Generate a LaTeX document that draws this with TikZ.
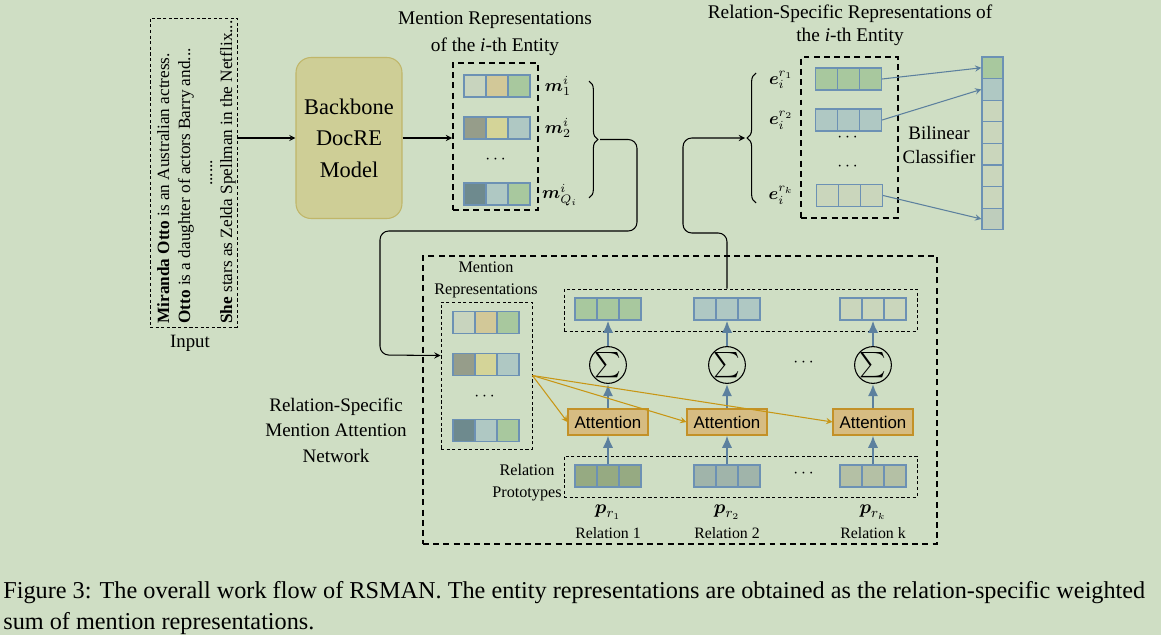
\documentclass[tikz,border=0pt]{standalone}
\usepackage{amsmath}
\usepackage{fontspec}
\setmainfont{Liberation Serif}
\newfontfamily\sansatt{Liberation Sans}
\usetikzlibrary{decorations.pathreplacing, calc, arrows.meta}
\definecolor{bgc}{RGB}{207, 222, 196}
\definecolor{cellline}{RGB}{108, 145, 180}
\definecolor{arrowblue}{RGB}{92, 128, 158}
\definecolor{goldline}{RGB}{200, 150, 20}
\definecolor{attfill}{RGB}{214, 188, 130}
\definecolor{attline}{RGB}{195, 145, 40}
\definecolor{backfill}{RGB}{206, 206, 150}
\definecolor{backline}{RGB}{192, 182, 105}
\definecolor{cpale}{RGB}{200, 212, 190}
\definecolor{ctan}{RGB}{210, 200, 152}
\definecolor{cgreen}{RGB}{168, 200, 158}
\definecolor{cgrey}{RGB}{150, 157, 138}
\definecolor{cyel}{RGB}{212, 212, 152}
\definecolor{cblue}{RGB}{175, 200, 195}
\definecolor{cslate}{RGB}{110, 138, 142}
\definecolor{clight}{RGB}{202, 214, 188}
\definecolor{cmist}{RGB}{190, 205, 188}
\definecolor{pgreen}{RGB}{150, 170, 130}
\definecolor{pblue}{RGB}{160, 180, 170}
\definecolor{plight}{RGB}{180, 192, 165}

\newcommand{\cellrow}[6]{%
  \node[cell, fill=#4] (#1-1) at ({#2-22}, #3) {};
  \node[cell, fill=#5] (#1-2) at (#2, #3) {};
  \node[cell, fill=#6] (#1-3) at ({#2+22}, #3) {};
}

\begin{document}
\begin{tikzpicture}[x=0.02cm, y=-0.02cm,
  cell/.style={draw=cellline, line width=0.7pt, inner sep=0, minimum width=0.44cm, minimum height=0.44cm},
  thickdash/.style={draw, line width=1.1pt, dash pattern=on 3.4pt off 2.4pt, inner sep=0},
  thindash/.style={draw, line width=0.5pt, dash pattern=on 1.8pt off 1.4pt, inner sep=0},
  blk/.style={->, >=stealth, line width=0.6pt},
  bluearrow/.style={-{Latex[length=7pt, width=6pt]}, line width=1.4pt, draw=arrowblue},
  goldarrow/.style={->, >=stealth, line width=0.6pt, draw=goldline},
  outarrow/.style={->, >=stealth, line width=0.6pt, draw=arrowblue},
  attbox/.style={draw=attline, fill=attfill, line width=0.6pt, minimum width=1.6cm, minimum height=0.52cm, inner sep=0, font=\sansatt\fontsize{9.6}{11}\selectfont},
  sumnode/.style={draw, circle, line width=0.6pt, minimum size=0.64cm, inner sep=0, font=\fontsize{15}{15}\selectfont},
  inputtxt/.style={rotate=90, anchor=base west, inner sep=0, font=\fontsize{9.8}{12}\selectfont},
  title/.style={align=center, inner sep=0, font=\fontsize{11}{15.3}\selectfont},
  small/.style={align=center, inner sep=0, font=\fontsize{9.2}{12.5}\selectfont},
  mathlbl/.style={inner sep=0, font=\fontsize{10}{12}\selectfont},
  brace/.style={decorate, decoration={brace, amplitude=5pt}, line width=0.6pt}]

  \fill[bgc] (0, 0) rectangle (1161, 635);
  \useasboundingbox (0, 0) rectangle (1161, 635);

  % input text
  \node[thindash, minimum width=1.74cm, minimum height=6.18cm] (input) at (193.5, 172.5) {};
  \node[inputtxt] (line1) at (169, 324) {\textbf{Miranda Otto} is an Australian actress.};
  \node[inputtxt] (line2) at (190, 324) {\textbf{Otto} is a daughter of actors Barry and...};
  \node[rotate=90, anchor=base, inner sep=0, font=\fontsize{9.8}{12}\selectfont] (line3) at (212, 173) {......};
  \node[inputtxt] (line4) at (232, 324) {\textbf{She} stars as Zelda Spellman in the Netflix...};
  \node[font=\fontsize{10.7}{12}\selectfont] (inputlbl) at (190, 343) {Input};

  \node[draw=backline, fill=backfill, line width=0.6pt, rounded corners=0.3cm, minimum width=2.12cm, minimum height=3.22cm,
        align=center, font=\fontsize{12.75}{18}\selectfont] (backbone) at (349, 138) {Backbone\\DocRE\\Model};
  \draw[blk] (input.east |- backbone.west) -- (backbone.west);

  % mention representations of the i-th entity
  \node[title] (mtitle) at (495, 33.5) {Mention Representations\\of the \textit{i}-th Entity};
  \node[thickdash, minimum width=1.7cm, minimum height=2.94cm] (mbox) at (495.5, 136.5) {};
  \cellrow{m1}{497}{86}{cpale}{ctan}{cgreen}
  \cellrow{m2}{497}{128}{cgrey}{cyel}{cblue}
  \cellrow{m3}{497}{194}{cslate}{cblue}{cgreen}
  \node (mdots) at (497, 160) {$\cdots$};
  \draw[blk] (backbone.east) -- (backbone.east -| mbox.west);

  \node[mathlbl] (ml1) at (558, 86) {${\boldsymbol{m}}_1^i$};
  \node[mathlbl] (ml2) at (558, 128) {${\boldsymbol{m}}_2^i$};
  \node[mathlbl] (ml3) at (560, 195) {${\boldsymbol{m}}_{Q_i}^i$};
  \draw[brace] (589, 81) -- (589, 198);
  \coordinate (mtip) at (600, 139.5);

  % relation-specific mention attention network
  \node[thickdash, minimum width=10.28cm, minimum height=5.76cm] (netbox) at (680, 400) {};
  \node[title, font=\fontsize{10.85}{14.5}\selectfont] (netlbl) at (336, 430) {Relation-Specific\\Mention Attention\\Network};

  \node[small] (lmlbl) at (486, 280) {Mention\\Representations};
  \node[thindash, minimum width=1.82cm, minimum height=2.94cm] (lbox) at (486.5, 375.5) {};
  \cellrow{lm1}{486}{322.5}{cpale}{ctan}{cgreen}
  \cellrow{lm2}{486}{364.5}{cgrey}{cyel}{cblue}
  \cellrow{lm3}{486}{430.5}{cslate}{cblue}{cgreen}
  \node (lmdots) at (486, 397) {$\cdots$};

  \draw[blk, rounded corners=5pt] (mtip) -- (637, 139.5) -- (637, 231) -- (380, 231) -- (380, 355) -- ($(lbox.west)+(0, -20)$);

  \node[thindash, minimum width=7.06cm, minimum height=0.84cm] (outrow) at (740.5, 310) {};
  \node[thindash, minimum width=7.06cm, minimum height=0.82cm] (protorow) at (740.5, 476.5) {};
  \node[small] (protolbl) at (527, 483) {Relation\\Prototypes};

  \foreach \g/\x/\oc/\pc/\r in {1/608/cgreen/pgreen/1, 2/727/cblue/pblue/2, 3/873/clight/plight/k} {
    \cellrow{out\g}{\x}{309}{\oc}{\oc}{\oc}
    \cellrow{proto\g}{\x}{476}{\pc}{\pc}{\pc}
    \node[sumnode] (sum\g) at (\x, 365) {$\sum$};
    \node[attbox] (att\g) at (\x, 422) {Attention};
    \node[font=\fontsize{11}{12}\selectfont] (plbl\g) at (\x, 512) {$\boldsymbol{p}_{r_{\r}}$};
    \node[font=\fontsize{9}{11}\selectfont] (rlbl\g) at (\x, 533) {Relation \r};
    \draw[bluearrow] (proto\g-2.north) -- (att\g.south);
    \draw[bluearrow] (att\g.north) -- (sum\g.south);
    \draw[bluearrow] (sum\g.north) -- (out\g-2.south);
    \draw[goldarrow] (lbox.east) -- (att\g.west);
  }
  \node (sumdots) at (805, 363) {$\cdots$};
  \node (protodots) at (805, 474) {$\cdots$};

  % relation-specific representations of the i-th entity
  \node[title, font=\fontsize{11}{13}\selectfont] (etitle) at (850, 25) {Relation-Specific Representations of\\the \textit{i}-th Entity};
  \node[thickdash, minimum width=1.94cm, minimum height=3.22cm] (ebox) at (849.5, 137.5) {};
  \cellrow{r1}{848.5}{79}{cgreen}{cgreen}{cgreen}
  \cellrow{r2}{848.5}{120}{cblue}{cblue}{cblue}
  \cellrow{r3}{849.5}{195.5}{clight}{clight}{clight}
  \node (edots1) at (849, 138) {$\cdots$};
  \node (edots2) at (849, 167) {$\cdots$};
  \node[mathlbl] (el1) at (781, 80) {$\boldsymbol{e}_i^{r_1}$};
  \node[mathlbl] (el2) at (781, 120) {$\boldsymbol{e}_i^{r_2}$};
  \node[mathlbl] (el3) at (781, 195) {$\boldsymbol{e}_i^{r_k}$};
  \draw[brace] (756, 203) -- (756, 73);
  \coordinate (etip) at (745, 138);
  \draw[blk, rounded corners=5pt] (out2-2 |- outrow.north) -- (727, 233) -- (683, 233) -- (683, 138) -- (etip);

  \node[title, font=\fontsize{10.8}{14.2}\selectfont] (bilin) at (939, 145) {Bilinear\\Classifier};
  \foreach \n/\c in {1/cgreen, 2/cblue, 3/clight, 4/clight, 5/clight, 6/clight, 7/clight, 8/cmist} {
    \node[cell, fill=\c, minimum width=0.42cm, minimum height=0.432cm] (cls\n) at (992.5, {57 + 21.6 * (\n - 0.5)}) {};
  }
  \draw[outarrow] (r1-3.east) -- (cls1.west);
  \draw[outarrow] (r2-3.east) -- (cls2.west);
  \draw[outarrow] (r3-3.east) -- (cls8.west);

  \node[anchor=north west, align=left, inner sep=0, font=\fontsize{13.8}{17.5}\selectfont] (caption) at (3, 581)
    {Figure 3: The overall work flow of RSMAN. The entity representations are obtained as the relation-specific weighted\\sum of mention representations.};

\end{tikzpicture}
\end{document}
